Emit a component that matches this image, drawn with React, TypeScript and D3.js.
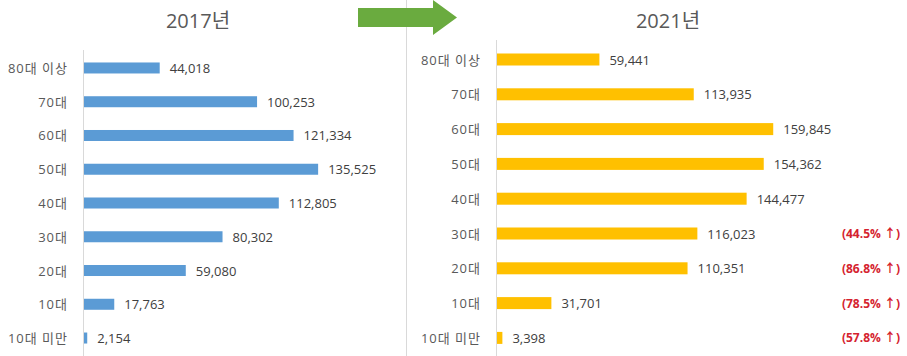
import React from "react";
import * as d3 from "d3";

const categories = ["80대 이상", "70대", "60대", "50대", "40대", "30대", "20대", "10대", "10대 미만"];
const values2017 = [44018, 100253, 121334, 135525, 112805, 80302, 59080, 17763, 2154];
const values2021 = [59441, 113935, 159845, 154362, 144477, 116023, 110351, 31701, 3398];
const increases = [null, null, null, null, null, "(44.5% ↑)", "(86.8% ↑)", "(78.5% ↑)", "(57.8% ↑)"];
const titles = ["2017년", "2021년"];

const W = 907;
const H = 356;
const FONT = "'Open Sans', 'Noto Sans CJK KR', sans-serif";
const fmt = d3.format(",");

type PanelProps = {
  values: number[];
  color: string;
  axisX: number;
  yRange: [number, number];
  padInner: number;
  axisTop: number;
  labelX: number;
  showInc?: boolean;
};

function Panel({ values, color, axisX, yRange, padInner, axisTop, labelX, showInc }: PanelProps) {
  const x = d3.scaleLinear().domain([0, 160000]).range([axisX + 0.5, axisX + 0.5 + 277]);
  const y = d3
    .scaleBand<string>()
    .domain(categories)
    .range(yRange)
    .paddingInner(padInner)
    .paddingOuter(padInner / 2);
  const bw = y.bandwidth();
  return (
    <g>
      {categories.map((c, i) => {
        const yc = (y(c) as number) + bw / 2;
        return (
          <g key={c}>
            <text x={labelX} y={yc} textAnchor="end" dominantBaseline="central" fontSize={13} letterSpacing={1} fill="#595959" fontFamily={FONT}>
              {c}
            </text>
            <rect x={x(0)} y={y(c)} width={x(values[i]) - x(0)} height={bw} fill={color} />
            <text x={x(values[i]) + 10} y={yc} dominantBaseline="central" fontSize={13} fill="#404040" fontFamily={FONT}>
              {fmt(values[i])}
            </text>
            {showInc && increases[i] ? (
              <text x={900} y={yc} textAnchor="end" dominantBaseline="central" fontSize={12} fontWeight="bold" fill="#D5232F" fontFamily={FONT}>
                {increases[i]}
              </text>
            ) : null}
          </g>
        );
      })}
      <line x1={axisX + 0.5} x2={axisX + 0.5} y1={axisTop} y2={H} stroke="#d9d9d9" strokeWidth={1} />
    </g>
  );
}

export default function App() {
  return (
    <svg width={W} height={H} style={{ position: "absolute", left: 0, top: 0, background: "#fff" }}>
      <rect x={0} y={0} width={W} height={H} fill="#fff" />
      <line x1={406.5} x2={406.5} y1={0} y2={H} stroke="#d9d9d9" strokeWidth={1} />
      <text x={198} y={28} textAnchor="middle" fontSize={20} fill="#595959" fontFamily={FONT}>
        {titles[0]}
      </text>
      <text x={668} y={28} textAnchor="middle" fontSize={20} fill="#595959" fontFamily={FONT}>
        {titles[1]}
      </text>
      <path d="M358,8 L433,8 L433,0 L457,17.5 L433,35 L433,27 L358,27 Z" fill="#6AAB3F" />
      <Panel
        values={values2017}
        color="#5B9BD5"
        axisX={83}
        yRange={[51.1, 354.9]}
        padInner={0.674}
        axisTop={50}
        labelX={68}
      />
      <Panel
        values={values2021}
        color="#FFC000"
        axisX={496}
        yRange={[42.1, 355.3]}
        padInner={0.655}
        axisTop={40}
        labelX={481}
        showInc
      />
    </svg>
  );
}
